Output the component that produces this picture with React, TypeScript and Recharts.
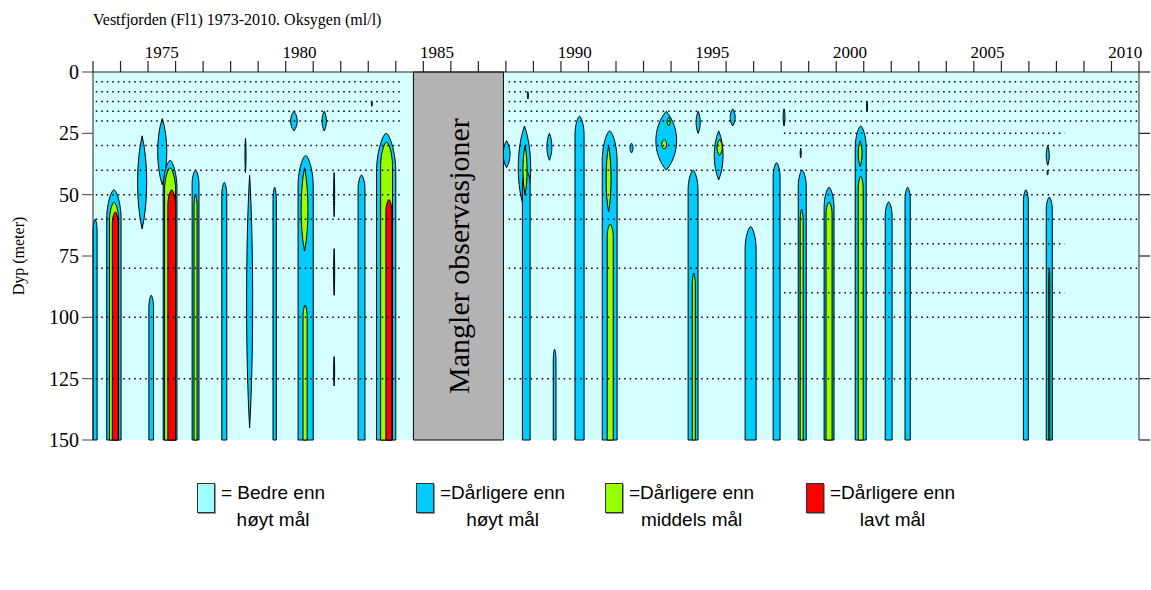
import React from "react";
import { ComposedChart, XAxis, YAxis, CartesianGrid, ReferenceArea, ReferenceLine } from "recharts";

const yearLabels = [1975, 1980, 1985, 1990, 1995, 2000, 2005, 2010];
const yearTicks = Array.from({ length: 39 }, (_, i) => 1973 + i);
const depthTicks = [0, 25, 50, 75, 100, 125, 150];

// sampling depths (m): every cruise, and the extra ones from the late years
const sampleDepths = [4, 8, 12, 16, 20, 30, 40, 50, 60, 80, 100, 125];
const lateDepths = [25, 70, 90];
const samplePeriods = [
  [1973.1, 1984.2],
  [1988.1, 2010.98],
];
const latePeriod = [1998.1, 2008.3];

// no observations
const missingFrom = 1984.64;
const missingTo = 1987.91;

// [year from, year to, depth top, depth bottom]
const blueCells = [
  [1973.0, 1973.15, 60, 150],
  [1973.5, 1974.02, 48, 150],
  [1974.62, 1974.95, 26, 64],
  [1975.03, 1975.2, 91, 150],
  [1975.35, 1975.68, 19, 46],
  [1975.55, 1976.05, 36, 150],
  [1976.6, 1976.85, 40, 150],
  [1977.68, 1977.86, 45, 150],
  [1978.52, 1978.56, 27, 41],
  [1978.58, 1978.8, 42, 145],
  [1979.54, 1979.66, 47, 150],
  [1980.18, 1980.42, 16, 24],
  [1981.32, 1981.48, 16, 24],
  [1980.45, 1981.0, 34, 150],
  [1981.74, 1981.78, 41, 59],
  [1981.74, 1981.78, 72, 91],
  [1981.74, 1981.78, 116, 128],
  [1982.63, 1982.88, 42, 150],
  [1983.11, 1983.15, 12, 14],
  [1983.3, 1984.0, 25, 150],
  [1987.9, 1988.15, 28, 39],
  [1988.45, 1988.9, 22, 56],
  [1988.6, 1988.88, 40, 150],
  [1988.78, 1988.82, 8, 11],
  [1989.49, 1989.67, 25, 36],
  [1989.72, 1989.82, 113, 150],
  [1990.51, 1990.84, 18, 150],
  [1991.5, 1992.04, 24, 150],
  [1992.51, 1992.62, 29, 33],
  [1993.45, 1994.2, 16, 40],
  [1994.91, 1995.06, 16, 25],
  [1994.62, 1994.98, 40, 150],
  [1995.57, 1995.89, 24, 44],
  [1996.15, 1996.33, 15, 22],
  [1996.69, 1997.09, 63, 150],
  [1997.71, 1997.96, 37, 150],
  [1998.07, 1998.14, 15, 22],
  [1998.69, 1998.73, 31, 35],
  [1998.62, 1998.91, 40, 150],
  [1999.56, 1999.92, 47, 150],
  [2000.69, 2001.09, 22, 150],
  [2001.1, 2001.14, 12, 16],
  [2001.78, 2002.03, 53, 150],
  [2002.5, 2002.69, 47, 150],
  [2006.8, 2006.98, 48, 150],
  [2007.63, 2007.85, 51, 150],
  [2007.63, 2007.74, 30, 38],
  [2007.66, 2007.7, 40, 42],
];

const greenCells = [
  [1973.6, 1973.93, 53, 150],
  [1975.6, 1976.0, 39, 150],
  [1976.67, 1976.78, 50, 150],
  [1980.56, 1980.81, 39, 73],
  [1980.63, 1980.78, 95, 150],
  [1983.45, 1983.88, 28.5, 150],
  [1988.62, 1988.77, 30, 50],
  [1991.64, 1991.82, 30, 57],
  [1991.68, 1991.9, 62, 150],
  [1993.86, 1993.97, 18.5, 22],
  [1993.66, 1993.84, 27.5, 31.5],
  [1994.77, 1994.88, 82, 150],
  [1995.67, 1995.86, 27.5, 34],
  [1998.69, 1998.8, 56, 150],
  [1999.63, 1999.85, 53, 150],
  [2000.8, 2000.94, 28, 38.5],
  [2000.8, 2000.98, 42.5, 150],
  [2007.72, 2007.76, 80, 150],
];

const redCells = [
  [1973.7, 1973.92, 57, 150],
  [1975.72, 1976.0, 48, 150],
  [1983.64, 1983.86, 52, 150],
];

const legendItems = [
  { color: "#a0ffff", line1: "= Bedre enn", line2: "høyt mål" },
  { color: "#00ccff", line1: "=Dårligere enn", line2: "høyt mål" },
  { color: "#99ff00", line1: "=Dårligere enn", line2: "middels mål" },
  { color: "#ff0000", line1: "=Dårligere enn", line2: "lavt mål" },
];
const legendLeft = [197, 416, 605, 806];

const axisData = yearTicks.map((year) => ({ year }));

const X_MIN = 1973;
const X_MAX = 2011;
const D_MAX = 150;
const TICK = 11;

const SERIF = "'Liberation Serif', 'Times New Roman', serif";
const SANS = "'Liberation Sans', Arial, sans-serif";
const BG = "#d5ffff";
const BLUE = "#00ccff";
const GREEN = "#99ff00";
const RED = "#ff0000";

function cellPath(x: number, y: number, w: number, h: number, open: boolean) {
  const cx = x + w / 2;
  if (open) {
    const t = Math.min(h * 0.35, Math.max(12, w * 2));
    return `M${x},${y + h}L${x},${y + t}C${x},${y + t * 0.45} ${cx - w * 0.15},${y} ${cx},${y}C${cx + w * 0.15},${y} ${x + w},${y + t * 0.45} ${x + w},${y + t}L${x + w},${y + h}Z`;
  }
  const k = 0.28;
  return `M${cx},${y}C${x + w * 1.17},${y + h * k} ${x + w * 1.17},${y + h * (1 - k)} ${cx},${y + h}C${x - w * 0.17},${y + h * (1 - k)} ${x - w * 0.17},${y + h * k} ${cx},${y}Z`;
}

function renderCells(cells: number[][], color: string, key: string) {
  return cells.map(([x1, x2, top, bottom], i) => (
    <ReferenceArea
      key={`${key}${i}`}
      x1={x1}
      x2={x2}
      y1={top}
      y2={bottom}
      ifOverflow="visible"
      shape={(p: any) => (
        <path
          d={cellPath(p.x, p.y, p.width, p.height, bottom >= D_MAX)}
          fill={color}
          stroke="#000"
          strokeWidth={1}
          strokeLinejoin="round"
        />
      )}
    />
  ));
}

// top axis: a tick mark every year, the label only on the five-year marks, half a year to the right
function YearTick(props: any) {
  const { x, y, payload, index, visibleTicksCount } = props;
  const yr = payload.value;
  const step = visibleTicksCount > 1 ? props.width / (X_MAX - X_MIN) : 0;
  return (
    <g>
      <line x1={x} x2={x} y1={y} y2={y + TICK} stroke="#222" strokeWidth={1.2} />
      {yearLabels.includes(yr) ? (
        <text
          x={x + step / 2}
          y={y - 3}
          textAnchor="middle"
          fontSize={17}
          fontFamily={SERIF}
          fill="#000"
          key={index}
        >
          {yr}
        </text>
      ) : null}
    </g>
  );
}

// right axis: outward tick mark only
function DepthTick(props: any) {
  const { x, y } = props;
  return <line x1={x - TICK} x2={x} y1={y} y2={y} stroke="#222" strokeWidth={1.2} />;
}

export default function App() {
  return (
    <div style={{ position: "absolute", left: 0, top: 0, width: 1151, height: 590, background: "#fff" }}>
      <div
        style={{
          position: "absolute",
          left: 93,
          top: 11,
          fontFamily: SERIF,
          fontSize: 16,
          lineHeight: "18px",
          whiteSpace: "nowrap",
        }}
      >
        Vestfjorden (Fl1) 1973-2010. Oksygen (ml/l)
      </div>
      <div
        style={{
          position: "absolute",
          left: 19,
          top: 256,
          transform: "translate(-50%, -50%) rotate(-90deg)",
          fontFamily: SERIF,
          fontSize: 16,
          whiteSpace: "nowrap",
        }}
      >
        Dyp (meter)
      </div>

      <ComposedChart
        width={1151}
        height={590}
        data={axisData}
        margin={{ top: 40, right: 0, bottom: 150, left: 0 }}
      >
        <CartesianGrid fill={BG} horizontal={false} vertical={false} />
        <XAxis
          xAxisId={0}
          dataKey="year"
          type="number"
          orientation="top"
          domain={[X_MIN, X_MAX]}
          allowDataOverflow
          ticks={yearTicks}
          interval={0}
          tick={<YearTick />}
          tickLine={false}
          tickSize={TICK}
          tickMargin={0}
          height={32}
          axisLine={{ stroke: "#222" }}
        />
        <XAxis
          xAxisId="bot"
          dataKey="year"
          type="number"
          orientation="bottom"
          domain={[X_MIN, X_MAX]}
          allowDataOverflow
          tick={false}
          tickLine={false}
          height={0}
          axisLine={{ stroke: "#222" }}
        />
        <YAxis
          yAxisId={0}
          type="number"
          domain={[0, D_MAX]}
          reversed
          allowDataOverflow
          ticks={depthTicks}
          interval={0}
          width={93}
          tickSize={TICK}
          tickMargin={3}
          axisLine={{ stroke: "#222" }}
          tickLine={{ stroke: "#444" }}
          tick={{ fontSize: 20, fontFamily: SERIF, fill: "#000" }}
        />
        <YAxis
          yAxisId="r"
          orientation="right"
          type="number"
          domain={[0, D_MAX]}
          reversed
          allowDataOverflow
          ticks={depthTicks}
          interval={0}
          width={12}
          tick={<DepthTick />}
          tickLine={false}
          tickSize={TICK}
          tickMargin={0}
          axisLine={{ stroke: "#222" }}
        />

        {samplePeriods.flatMap(([a, b], j) =>
          sampleDepths.map((d) => (
            <ReferenceLine
              key={`s${j}-${d}`}
              segment={[
                { x: a, y: d },
                { x: b, y: d },
              ]}
              stroke="#000"
              strokeWidth={1.5}
              strokeDasharray="1.5 4"
            />
          ))
        )}
        {lateDepths.map((d) => (
          <ReferenceLine
            key={`l${d}`}
            segment={[
              { x: latePeriod[0], y: d },
              { x: latePeriod[1], y: d },
            ]}
            stroke="#000"
            strokeWidth={1.5}
            strokeDasharray="1.5 4"
          />
        ))}

        {renderCells(blueCells, BLUE, "b")}
        {renderCells(greenCells, GREEN, "g")}
        {renderCells(redCells, RED, "r")}

        <ReferenceArea
          x1={missingFrom}
          x2={missingTo}
          y1={0}
          y2={D_MAX}
          fill="#b3b3b3"
          fillOpacity={1}
          stroke="#000"
          strokeWidth={1}
          label={{
            value: "Mangler observasjoner",
            position: "center",
            angle: -90,
            fontSize: 30,
            fontFamily: SERIF,
            fill: "#000",
          }}
        />
      </ComposedChart>

      {legendItems.map((item, i) => (
        <div key={item.line2 + i}>
          <div
            style={{
              position: "absolute",
              left: legendLeft[i],
              top: 483,
              width: 16,
              height: 28,
              background: item.color,
              border: "1px solid #333",
              boxShadow: "1px 1px 0 #999",
            }}
          />
          <div
            style={{
              position: "absolute",
              left: legendLeft[i] + 24,
              top: 479,
              fontFamily: SANS,
              fontSize: 19,
              lineHeight: "27px",
              textAlign: "center",
              whiteSpace: "nowrap",
              color: "#000",
            }}
          >
            <div>{item.line1}</div>
            <div>{item.line2}</div>
          </div>
        </div>
      ))}
    </div>
  );
}
